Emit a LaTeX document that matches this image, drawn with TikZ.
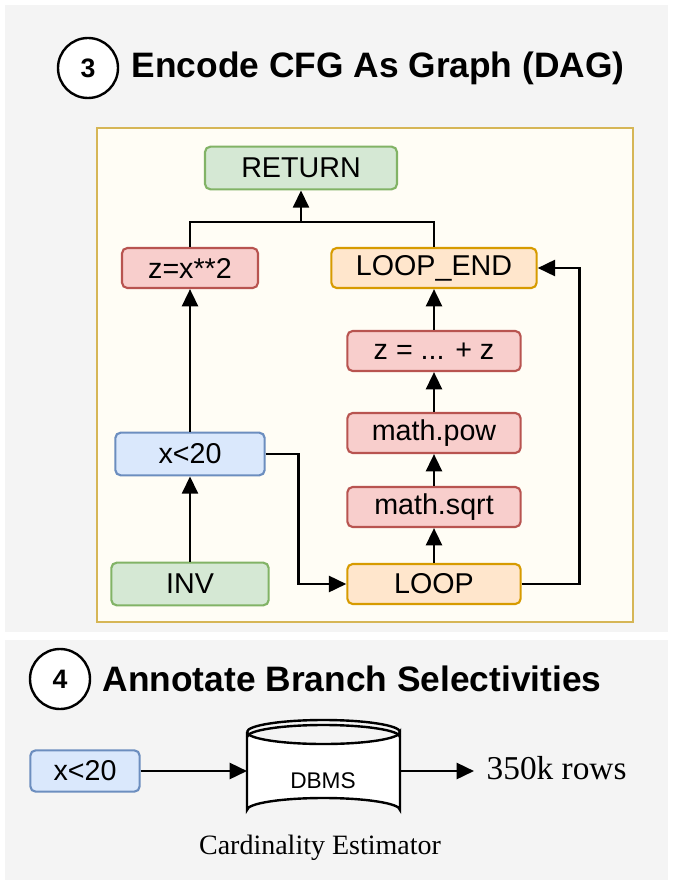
\documentclass[tikz,border=0pt]{standalone}
\usepackage{fontspec}
\setmainfont{Liberation Serif}
\newfontfamily\nodefont{Liberation Sans}
\usetikzlibrary{positioning,arrows.meta,calc}
\definecolor{grnF}{HTML}{D5E8D4}\definecolor{grnD}{HTML}{82B366}
\definecolor{redF}{HTML}{F8CECC}\definecolor{redD}{HTML}{B85450}
\definecolor{bluF}{HTML}{DAE8FC}\definecolor{bluD}{HTML}{6C8EBF}
\definecolor{orgF}{HTML}{FFE6CC}\definecolor{orgD}{HTML}{D79B00}
\definecolor{panel}{HTML}{F4F4F4}
\definecolor{frameF}{HTML}{FFFDF5}\definecolor{frameD}{HTML}{D6B656}

\begin{document}
\begin{tikzpicture}[
    x=0.75pt, y=-0.75pt,
    box/.style ={
        draw,
        line width=1.6pt,
        rounded corners=4pt,
        font=\nodefont\fontsize{21.5}{23}\selectfont,
        inner sep=0pt
    },
    grn/.style ={box, fill=grnF, draw=grnD},
    rd/.style ={box, fill=redF, draw=redD},
    blu/.style ={box, fill=bluF, draw=bluD},
    org/.style ={box, fill=orgF, draw=orgD},
    num/.style ={
        circle,
        draw,
        line width=1.8pt,
        fill=white,
        minimum size=45pt,
        font=\nodefont\bfseries\fontsize{20}{22}\selectfont
    },
    ttl/.style ={
        anchor=west,
        font=\nodefont\bfseries\fontsize{26.5}{29}\selectfont
    },
    arr/.style ={
        -{Triangle[length=13pt,width=12pt]},
        line width=1.9pt
    }
    ]
    \useasboundingbox (0,0) rectangle (675,884);
    % panels
    \fill[panel] (5,5) rectangle (668,632);
    \fill[panel] (5,640) rectangle (668,880);
    \draw[frameD, fill=frameF, line width=1.8pt] (97,128) rectangle (633,622);

    % step 3
    \node[num] (n3) at (88,68) {3};
    \node[ttl] (t3) at (127,68) {Encode CFG As Graph (DAG)};

    \node[grn, minimum width=144pt, minimum height=32pt] (ret) at (301,168) {RETURN};
    \node[rd, minimum width=102pt, minimum height=30pt] (sq) at (190,268) {z=x**2};
    \node[org, minimum width=154pt, minimum height=30pt] (lend) at (434,268) {LOOP\_END};
    \node[rd, minimum width=130pt, minimum height=30pt] (acc) at (434,351) {z = ... + z};
    \node[rd, minimum width=130pt, minimum height=30pt] (pow) at (434,433) {math.pow};
    \node[rd, minimum width=130pt, minimum height=30pt] (sqrt) at (434,507) {math.sqrt};
    \node[org, minimum width=130pt, minimum height=30pt] (loop) at (434,584) {LOOP};
    \node[blu, minimum width=112pt, minimum height=32pt] (cond) at (190,454) {x<20};
    \node[grn, minimum width=118pt, minimum height=32pt] (inv) at (190,584) {INV};

    \coordinate (join) at (301,222);
    \draw[line width=1.9pt] (sq.north) |- (join) -| (lend.north);
    \draw[arr] (join) -- (ret.south);
    \draw[arr] (inv) -- (cond);
    \draw[arr] (cond) -- (sq);
    \draw[arr] (cond.east) -- ++(33,0) |- (loop.west);
    \draw[arr] (loop) -- (sqrt);
    \draw[arr] (sqrt) -- (pow);
    \draw[arr] (pow) -- (acc);
    \draw[arr] (acc) -- (lend);
    \draw[arr] (loop.east) -- ++(58,0) |- (lend.east);

    % step 4
    \node[num] (n4) at (60,679) {4};
    \node[ttl] (t4) at (98,679) {Annotate Branch Selectivities};

    \node[blu, minimum width=82pt, minimum height=31pt] (pred) at (85,771) {x<20};
    \begin{scope}[line width=1.8pt]
        \draw[fill=white] (247,732) -- (247,810) arc[start angle=180,end angle=360,x radius=76.5,y radius=12]
            -- (400,732) arc[start angle=0,end angle=180,x radius=76.5,y radius=12];
        \draw (247,732) arc[start angle=180,end angle=360,x radius=76.5,y radius=12];
        \draw (247,737) arc[start angle=180,end angle=360,x radius=76.5,y radius=12];
    \end{scope}
    \node[font=\nodefont\fontsize{17}{19}\selectfont] (db) at (323,781) {DBMS};
    \coordinate (dbw) at (247,771);
    \coordinate (dbe) at (400,771);
    \coordinate (out) at (474,771);
    \node[anchor=west, font=\fontsize{25}{28}\selectfont] (rows) at (482,768) {350k rows};
    \node[font=\fontsize{21}{23}\selectfont] (card) at (320,848) {Cardinality Estimator};
    \draw[arr] (pred.east) -- (dbw);
    \draw[arr] (dbe) -- (out);
\end{tikzpicture}
\end{document}
